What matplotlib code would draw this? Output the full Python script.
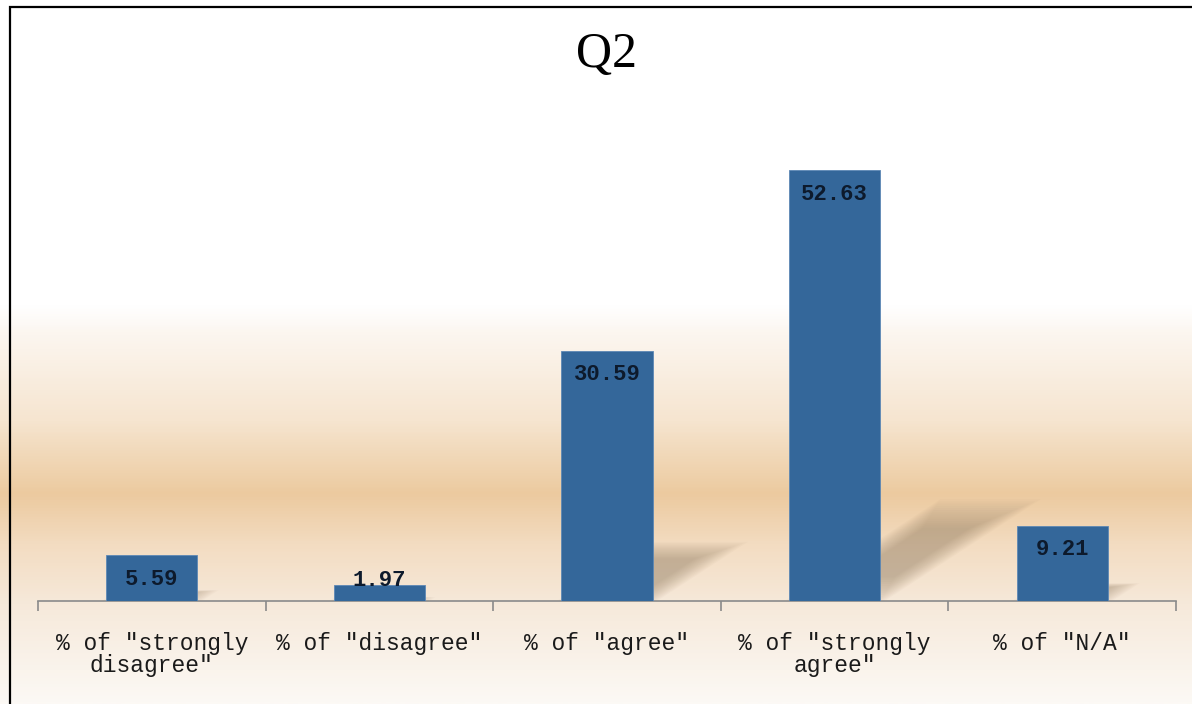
import numpy as np
import matplotlib
matplotlib.use("Agg")
from matplotlib import pyplot as plt
from matplotlib.colors import LinearSegmentedColormap
from matplotlib.patches import Polygon, Rectangle

# 데이터
categories = ['% of "strongly\ndisagree"', '% of "disagree"', '% of "agree"',
              '% of "strongly\nagree"', '% of "N/A"']
values = [5.59, 1.97, 30.59, 52.63, 9.21]
value_labels = ['5.59', '1.97', '30.59', '52.63', '9.21']
title = 'Q2'

W, H = 1192, 704
fig = plt.figure(figsize=(W / 100, H / 100), dpi=100)

# 배경 그라데이션 (위: 흰색, 가운데: 베이지 띠)
bg = fig.add_axes([0, 0, 1, 1])
stops = [(0.0, '#ffffff'), (305 / H, '#ffffff'), (335 / H, '#fcf6ef'),
         (420 / H, '#f6e5d0'), (495 / H, '#ecca9f'), (545 / H, '#f3dcc1'),
         (605 / H, '#f6e9da'), (1.0, '#fcf9f5')]
cmap = LinearSegmentedColormap.from_list('bg', stops)
grad = np.linspace(0, 1, 500).reshape(-1, 1)
bg.imshow(grad, aspect='auto', cmap=cmap, extent=[0, 1, 0, 1], origin='upper')
bg.set_xlim(0, 1)
bg.set_ylim(0, 1)
bg.axis('off')

# 바깥 테두리 (왼쪽, 위쪽만 보임)
fig.patches.append(Rectangle((10 / W, -0.1), 1.2, 1.1 - 7 / H, transform=fig.transFigure,
                             fill=False, edgecolor='black', linewidth=1.6, zorder=5))

# 차트 영역
left, right = 38 / W, 1176 / W
bottom = (H - 601) / H
ax = fig.add_axes([left, bottom, right - left, 0.6974])
ax.patch.set_alpha(0)
ax.set_xlim(-0.5, len(values) - 0.5)
ax.set_ylim(0, 60)

x = np.arange(len(values))
bar_w = 0.4

# 그림자 (막대 오른쪽 위로 비스듬히, 흐릿하게)
for xi, v in zip(x, values):
    dx = 0.0124 * v
    dy = 0.225 * v
    pts = np.array([[xi - bar_w / 2, 0], [xi + bar_w / 2, 0],
                    [xi + bar_w / 2 + dx, dy], [xi - bar_w / 2 + dx, dy]])
    c = pts.mean(axis=0)
    for k in range(14):
        s = 1.1 - 0.045 * k
        ax.add_patch(Polygon(c + (pts - c) * s, closed=True, facecolor='#8f7a5e',
                             edgecolor='none', alpha=0.04, zorder=1))

ax.bar(x, values, width=bar_w, color='#34679a', edgecolor='#5d88b5', linewidth=0.6, zorder=3)

for xi, v, lab in zip(x, values, value_labels):
    ax.text(xi, max(v - 2.93, 2.56), lab, ha='center', va='center', fontsize=16,
            family='Liberation Mono', fontweight='bold', color='#0d1a2c', zorder=4)

# 축 스타일
for s in ['left', 'right', 'top']:
    ax.spines[s].set_visible(False)
ax.spines['bottom'].set_color('#8a8a8a')
ax.spines['bottom'].set_linewidth(1.2)
ax.spines['bottom'].set_zorder(2)
ax.set_yticks([])
ax.set_xticks(x)
ax.set_xticklabels(categories, family='Liberation Mono', fontsize=16.5, color='#1a1a1a',
                   multialignment='center', linespacing=0.95)
ax.tick_params(axis='x', which='major', length=0, pad=22)
ax.set_xticks(np.arange(-0.5, len(values)), minor=True)
ax.tick_params(axis='x', which='minor', length=7, width=1.2, color='#8a8a8a', direction='out')

fig.text((left + right) / 2, 1 - 55 / H, title, ha='center', va='center',
         fontsize=36, family='Liberation Serif', color='black')

plt.savefig('out.png', dpi=100)
